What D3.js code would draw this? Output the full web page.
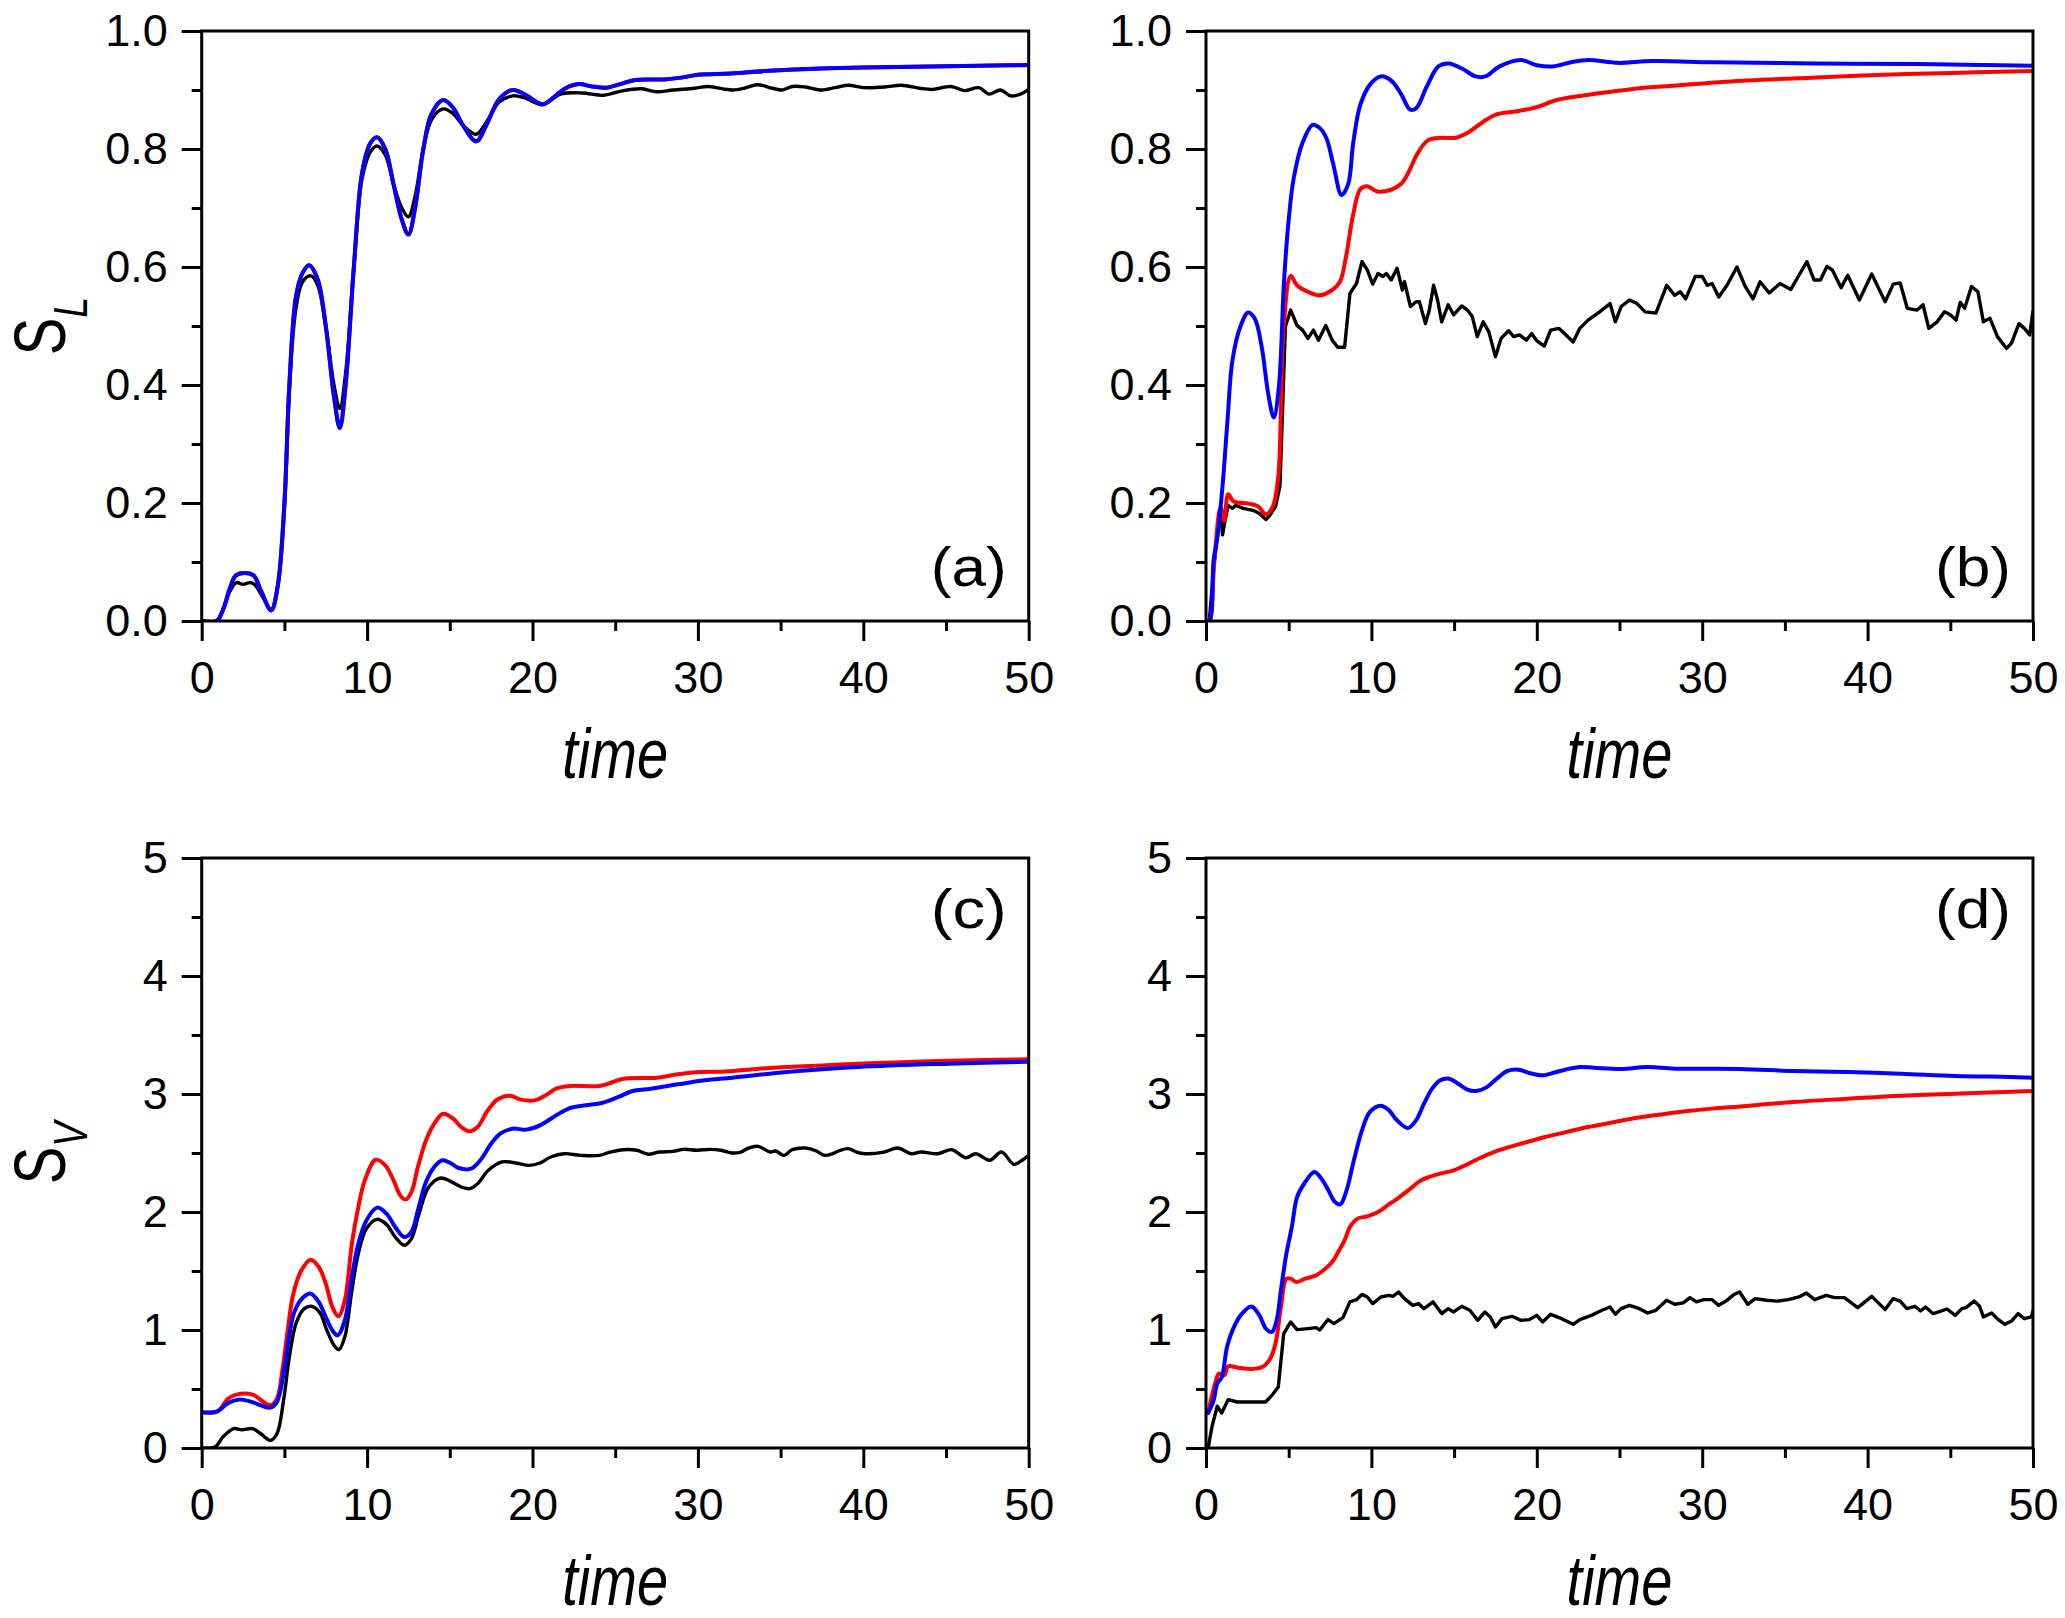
<!DOCTYPE html>
<html><head><meta charset="utf-8">
<script src="https://cdn.jsdelivr.net/npm/d3@7"></script>
<style>html,body{margin:0;padding:0;background:#fff}svg{display:block}</style>
</head><body>
<script>
// ---------------- DATA ----------------
const xTicksMajor = [0, 10, 20, 30, 40, 50];
const xTicksMinor = [5, 15, 25, 35, 45];
const yTicksTopMajor = [0, 0.2, 0.4, 0.6, 0.8, 1.0];
const yTicksTopMinor = [0.1, 0.3, 0.5, 0.7, 0.9];
const yTicksBotMajor = [0, 1, 2, 3, 4, 5];
const yTicksBotMinor = [0.5, 1.5, 2.5, 3.5, 4.5];
const panelLabels = ["(a)", "(b)", "(c)", "(d)"];

// panel (a)  S_L
const aBlack = [[0,0],[0.9,0],[1.3,0.02],[1.7,0.05],[2.1,0.065],[2.5,0.062],[2.9,0.065],[3.2,0.062],[3.6,0.045],[4.2,0.02],[4.6,0.06],[5.0,0.19],[5.3,0.39],[5.7,0.53],[6.1,0.575],[6.6,0.585],[7.0,0.57],[7.5,0.5],[8.0,0.4],[8.35,0.36],[8.7,0.42],[9.2,0.6],[9.7,0.75],[10.2,0.795],[10.6,0.805],[11.1,0.79],[11.6,0.74],[12.1,0.7],[12.5,0.685],[12.9,0.72],[13.4,0.8],[13.9,0.85],[14.6,0.868],[15.2,0.86],[15.8,0.84],[16.6,0.825],[17.2,0.845],[18.0,0.88],[18.8,0.89],[19.5,0.887],[20.6,0.875],[21.7,0.893],[23,0.895],[24.3,0.891],[25.5,0.899],[26.6,0.902],[27.5,0.897],[28.5,0.9],[29.8,0.903],[30.6,0.906],[31.5,0.902],[32.1,0.9],[32.8,0.903],[33.6,0.909],[34.5,0.903],[35.1,0.9],[35.7,0.906],[36.5,0.905],[37.4,0.9],[38.3,0.904],[39.1,0.908],[40.0,0.904],[41.3,0.905],[42.3,0.908],[43.4,0.903],[44.2,0.901],[45.3,0.906],[46.1,0.899],[47.0,0.904],[47.6,0.893],[48.3,0.9],[48.9,0.89],[49.5,0.893],[50,0.901]];
const aRed = [[0,0],[0.9,0],[1.3,0.02],[1.7,0.055],[2.1,0.078],[3.1,0.078],[3.6,0.05],[4.2,0.018],[4.6,0.06],[5.0,0.2],[5.3,0.4],[5.7,0.55],[6.1,0.59],[6.5,0.603],[7.0,0.58],[7.5,0.5],[8.0,0.38],[8.35,0.327],[8.7,0.4],[9.2,0.6],[9.7,0.76],[10.2,0.81],[10.6,0.82],[11.1,0.8],[11.6,0.74],[12.1,0.68],[12.5,0.655],[12.9,0.7],[13.4,0.8],[13.9,0.86],[14.6,0.883],[15.2,0.87],[15.8,0.84],[16.6,0.813],[17.2,0.84],[18.0,0.885],[18.8,0.9],[19.5,0.893],[20.6,0.876],[21.3,0.888],[22.0,0.903],[22.8,0.91],[23.6,0.906],[24.5,0.904],[25.3,0.91],[26.2,0.917],[28,0.918],[29,0.921],[30,0.926],[32,0.928],[34,0.932],[37,0.936],[40,0.938],[44,0.94],[47,0.941],[50,0.943]];
const aBlue = [[0,0],[0.9,0],[1.3,0.02],[1.7,0.055],[2.1,0.078],[3.1,0.078],[3.6,0.05],[4.2,0.018],[4.6,0.06],[5.0,0.2],[5.3,0.4],[5.7,0.55],[6.1,0.59],[6.5,0.603],[7.0,0.58],[7.5,0.5],[8.0,0.38],[8.35,0.327],[8.7,0.4],[9.2,0.6],[9.7,0.76],[10.2,0.81],[10.6,0.82],[11.1,0.8],[11.6,0.74],[12.1,0.68],[12.5,0.655],[12.9,0.7],[13.4,0.8],[13.9,0.86],[14.6,0.883],[15.2,0.87],[15.8,0.84],[16.6,0.813],[17.2,0.84],[18.0,0.885],[18.8,0.9],[19.5,0.893],[20.6,0.876],[21.3,0.888],[22.0,0.903],[22.8,0.91],[23.6,0.906],[24.5,0.904],[25.3,0.91],[26.2,0.917],[28,0.918],[29,0.921],[30,0.926],[32,0.928],[34,0.932],[37,0.936],[40,0.938],[44,0.94],[47,0.941],[50,0.942]];

// panel (b)  S_L
const bBlack = [[0,0],[0.2,0],[0.5,0.1],[0.8,0.17],[0.9,0.185],[1.0,0.146],[1.15,0.17],[1.34,0.196],[1.6,0.191],[1.8,0.196],[2.25,0.191],[2.9,0.187],[3.23,0.182],[3.62,0.172],[3.88,0.18],[4.2,0.194],[4.47,0.228],[4.8,0.499],[5.12,0.527],[5.5,0.501],[5.84,0.493],[6.16,0.479],[6.5,0.493],[6.8,0.476],[7.24,0.501],[7.63,0.476],[7.96,0.464],[8.38,0.464],[8.7,0.555],[9.1,0.572],[9.43,0.609],[9.75,0.595],[10.08,0.571],[10.4,0.589],[10.7,0.584],[10.9,0.589],[11.2,0.578],[11.55,0.598],[11.87,0.561],[12.0,0.575],[12.36,0.533],[12.7,0.541],[12.9,0.541],[13.27,0.504],[13.5,0.527],[13.76,0.569],[14.0,0.544],[14.25,0.507],[14.64,0.536],[14.97,0.519],[15.46,0.534],[15.8,0.527],[16.1,0.516],[16.4,0.482],[16.76,0.507],[17.1,0.49],[17.5,0.448],[17.84,0.479],[18.3,0.492],[18.6,0.482],[18.95,0.485],[19.37,0.476],[19.7,0.487],[20.0,0.475],[20.45,0.466],[20.84,0.493],[21.33,0.496],[21.75,0.485],[22.2,0.473],[22.6,0.496],[23.1,0.51],[23.8,0.524],[24.43,0.538],[24.75,0.507],[25.1,0.533],[25.6,0.544],[26.06,0.538],[26.55,0.524],[27.2,0.522],[27.85,0.569],[28.34,0.552],[28.67,0.558],[29.0,0.546],[29.58,0.584],[30.0,0.584],[30.3,0.569],[30.6,0.572],[31.0,0.549],[31.5,0.569],[32.1,0.6],[32.6,0.567],[33.07,0.546],[33.5,0.575],[34.05,0.556],[34.7,0.572],[35.36,0.562],[35.85,0.586],[36.33,0.609],[36.76,0.578],[37.15,0.578],[37.54,0.601],[37.87,0.595],[38.4,0.565],[38.8,0.586],[39.5,0.544],[40.25,0.588],[41.06,0.541],[41.55,0.571],[41.97,0.573],[42.4,0.53],[43.0,0.527],[43.35,0.536],[43.7,0.496],[44.2,0.507],[44.65,0.524],[45.0,0.519],[45.35,0.51],[45.6,0.54],[45.87,0.53],[46.28,0.567],[46.67,0.558],[47.0,0.507],[47.4,0.513],[47.85,0.482],[48.4,0.462],[48.7,0.471],[49.15,0.504],[49.48,0.496],[49.8,0.485],[50,0.525]];
const bRed = [[0,0],[0.2,0],[0.5,0.1],[0.88,0.193],[1.1,0.17],[1.34,0.215],[1.66,0.203],[2.58,0.199],[3.16,0.194],[3.62,0.181],[4.04,0.194],[4.37,0.245],[4.53,0.358],[4.7,0.499],[5.12,0.585],[5.5,0.569],[6.16,0.558],[6.88,0.552],[7.63,0.561],[8.1,0.575],[8.45,0.615],[8.9,0.689],[9.33,0.732],[9.74,0.737],[10.35,0.728],[11.2,0.731],[11.8,0.741],[12.2,0.758],[12.8,0.793],[13.43,0.815],[14.26,0.819],[15.08,0.819],[15.9,0.829],[16.7,0.845],[17.5,0.858],[18.8,0.864],[20,0.871],[21.2,0.883],[22.9,0.891],[24.5,0.897],[26.2,0.903],[28.6,0.908],[32.7,0.916],[36.9,0.921],[41,0.926],[45.1,0.929],[50,0.932]];
const bBlue = [[0,0],[0.2,0],[0.46,0.103],[0.7,0.144],[1.03,0.239],[1.3,0.34],[1.6,0.442],[2.09,0.5],[2.55,0.523],[2.96,0.512],[3.37,0.464],[3.78,0.382],[4.1,0.345],[4.4,0.395],[4.72,0.577],[5.0,0.68],[5.3,0.75],[5.83,0.81],[6.45,0.841],[6.86,0.836],[7.27,0.819],[7.68,0.776],[8.2,0.722],[8.6,0.741],[8.9,0.81],[9.33,0.875],[9.94,0.91],[10.56,0.923],[11.2,0.916],[11.8,0.893],[12.33,0.867],[12.7,0.869],[13.35,0.906],[14.05,0.94],[14.67,0.945],[15.5,0.936],[16.3,0.923],[16.9,0.923],[17.75,0.94],[19,0.951],[20,0.942],[21,0.94],[22.06,0.947],[23.1,0.951],[24.9,0.946],[27,0.949],[30.7,0.947],[36.9,0.945],[43,0.944],[50,0.941]];

// panel (c)  S_V
const cBlack = [[0,0],[0.8,0.008],[1.28,0.093],[1.93,0.164],[2.42,0.155],[3.08,0.164],[3.57,0.121],[4.16,0.065],[4.55,0.121],[4.95,0.404],[5.3,0.771],[5.7,1.054],[6.2,1.181],[6.68,1.2],[7.18,1.138],[7.57,0.997],[8.0,0.87],[8.29,0.833],[8.65,0.941],[9.08,1.336],[9.47,1.647],[9.96,1.859],[10.6,1.938],[11.17,1.895],[11.7,1.788],[12.25,1.718],[12.68,1.774],[13.14,1.986],[13.73,2.212],[14.45,2.288],[15.04,2.26],[15.7,2.212],[16.2,2.198],[16.68,2.24],[17.33,2.353],[18.15,2.424],[19.0,2.415],[19.8,2.395],[20.45,2.415],[21.1,2.466],[21.9,2.494],[22.9,2.48],[24.05,2.48],[24.7,2.508],[25.5,2.528],[26.3,2.523],[27.0,2.489],[27.65,2.508],[28.5,2.514],[29.13,2.531],[29.95,2.523],[30.77,2.531],[31.4,2.523],[32.08,2.5],[32.6,2.508],[33.06,2.542],[33.65,2.556],[34.37,2.508],[34.7,2.517],[35.2,2.48],[35.7,2.528],[36.5,2.542],[37.16,2.517],[37.65,2.48],[38.14,2.494],[38.6,2.523],[39.1,2.537],[39.6,2.508],[40.1,2.494],[41.25,2.508],[42.07,2.542],[42.9,2.494],[43.5,2.508],[44.5,2.494],[45.35,2.528],[46.2,2.46],[46.8,2.494],[47.64,2.438],[48.36,2.508],[49.1,2.404],[49.6,2.438],[50,2.48]];
const cRed = [[0,0.302],[0.95,0.31],[1.6,0.418],[2.1,0.452],[3.08,0.452],[3.74,0.39],[4.16,0.362],[4.55,0.418],[4.88,0.658],[5.2,0.997],[5.54,1.308],[6.03,1.506],[6.59,1.596],[7.08,1.534],[7.5,1.393],[7.9,1.195],[8.26,1.116],[8.65,1.251],[9.08,1.732],[9.47,2.042],[9.86,2.268],[10.52,2.443],[11.1,2.395],[11.6,2.268],[12.0,2.141],[12.32,2.105],[12.68,2.169],[13.07,2.381],[13.56,2.607],[14.06,2.749],[14.6,2.833],[15.2,2.791],[15.7,2.72],[16.2,2.684],[16.68,2.72],[17.3,2.862],[17.9,2.955],[18.64,2.986],[19.3,2.952],[20.1,2.946],[20.8,2.989],[21.43,3.045],[22.25,3.068],[24.05,3.068],[24.87,3.102],[25.5,3.13],[27.5,3.138],[28.8,3.167],[30.1,3.186],[31.4,3.189],[33.7,3.215],[35.35,3.229],[38.6,3.249],[41.9,3.268],[45.2,3.282],[50,3.294]];
const cBlue = [[0,0.302],[0.95,0.31],[1.6,0.381],[2.26,0.41],[2.92,0.395],[3.57,0.362],[4.16,0.342],[4.55,0.39],[4.95,0.63],[5.28,0.941],[5.6,1.153],[6.1,1.271],[6.59,1.308],[7.08,1.237],[7.5,1.11],[7.9,0.997],[8.22,0.955],[8.65,1.082],[9.08,1.449],[9.47,1.732],[9.96,1.929],[10.6,2.037],[11.17,1.986],[11.7,1.873],[12.25,1.788],[12.68,1.831],[13.07,2.014],[13.56,2.254],[14.06,2.381],[14.55,2.438],[15.04,2.415],[15.53,2.373],[16.28,2.367],[16.84,2.438],[17.5,2.579],[18.05,2.664],[18.8,2.706],[19.63,2.698],[20.45,2.734],[21.27,2.805],[22.25,2.881],[23.23,2.904],[24.2,2.924],[25.2,2.975],[26.0,3.023],[27.16,3.045],[28.8,3.082],[30.4,3.116],[32.08,3.138],[35.35,3.186],[38.6,3.22],[41.9,3.243],[45.2,3.257],[50,3.274]];

// panel (d)  S_V
const dBlack = [[0.13,0],[0.36,0.18],[0.68,0.354],[0.95,0.296],[1.34,0.41],[1.9,0.39],[2.9,0.39],[3.6,0.39],[4.04,0.455],[4.37,0.517],[4.7,0.969],[5.12,1.068],[5.5,1.003],[6.16,1.012],[6.65,1.02],[6.88,1.0],[7.37,1.088],[7.73,1.054],[8.28,1.105],[8.7,1.238],[9.1,1.257],[9.43,1.302],[9.75,1.28],[10.08,1.224],[10.57,1.28],[11.06,1.294],[11.3,1.285],[11.64,1.322],[12.0,1.266],[12.5,1.209],[12.85,1.224],[13.18,1.181],[13.73,1.238],[14.25,1.139],[14.64,1.181],[14.97,1.153],[15.46,1.201],[15.95,1.167],[16.43,1.082],[16.86,1.153],[17.19,1.111],[17.5,1.026],[17.9,1.096],[18.5,1.116],[19.05,1.082],[19.54,1.088],[20.0,1.124],[20.35,1.068],[20.84,1.133],[21.5,1.096],[22.2,1.048],[22.6,1.088],[23.3,1.124],[23.94,1.167],[24.43,1.195],[24.75,1.133],[25.1,1.181],[25.6,1.209],[26.2,1.181],[26.7,1.144],[27.2,1.167],[27.85,1.252],[28.34,1.218],[28.85,1.23],[29.26,1.274],[29.65,1.238],[30.1,1.257],[30.6,1.257],[31.0,1.209],[31.44,1.245],[31.93,1.302],[32.26,1.322],[32.75,1.218],[33.2,1.266],[33.9,1.252],[34.55,1.245],[35.2,1.257],[35.85,1.28],[36.3,1.313],[36.8,1.257],[37.5,1.294],[38.0,1.274],[38.6,1.274],[39.4,1.19],[40.25,1.285],[41.06,1.173],[41.55,1.266],[41.97,1.245],[42.37,1.181],[42.86,1.201],[43.2,1.161],[43.5,1.195],[43.95,1.139],[44.3,1.153],[44.8,1.178],[45.3,1.124],[45.7,1.181],[45.95,1.19],[46.44,1.245],[46.77,1.201],[47.0,1.111],[47.5,1.144],[47.9,1.088],[48.3,1.048],[48.7,1.076],[49.1,1.139],[49.48,1.096],[49.9,1.111],[50,1.161]];
const dRed = [[0.13,0.3],[0.55,0.545],[0.78,0.63],[1.1,0.616],[1.34,0.692],[1.92,0.681],[2.74,0.67],[3.4,0.686],[3.88,0.757],[4.2,0.884],[4.53,1.195],[4.86,1.435],[5.12,1.435],[5.45,1.407],[6.0,1.435],[6.65,1.463],[7.14,1.51],[7.63,1.576],[8.05,1.675],[8.38,1.76],[8.7,1.873],[9.16,1.944],[9.75,1.963],[10.4,2.0],[11.06,2.065],[11.7,2.127],[12.36,2.198],[13.0,2.268],[13.5,2.297],[14.16,2.325],[14.97,2.353],[15.8,2.404],[16.6,2.46],[17.4,2.508],[18.2,2.545],[19.2,2.585],[20.5,2.636],[21.8,2.678],[23.1,2.72],[24.4,2.754],[25.7,2.791],[27.4,2.825],[29.0,2.853],[30.6,2.876],[32.3,2.895],[35.5,2.932],[38.8,2.96],[42.0,2.986],[45.3,3.003],[50,3.025]];
const dBlue = [[0.13,0.297],[0.46,0.404],[0.68,0.545],[0.95,0.6],[1.27,0.856],[1.6,0.997],[2.09,1.124],[2.74,1.2],[3.23,1.124],[3.62,1.011],[3.98,0.983],[4.27,1.082],[4.53,1.336],[4.86,1.647],[5.19,1.873],[5.51,2.127],[6.0,2.254],[6.55,2.339],[6.98,2.282],[7.4,2.184],[7.8,2.085],[8.12,2.065],[8.5,2.184],[8.94,2.438],[9.43,2.692],[9.9,2.847],[10.57,2.901],[11.06,2.862],[11.55,2.777],[12.2,2.712],[12.7,2.777],[13.18,2.918],[13.67,3.045],[14.16,3.116],[14.7,3.13],[15.3,3.082],[15.8,3.037],[16.34,3.025],[16.93,3.054],[17.58,3.13],[18.23,3.195],[18.9,3.206],[19.54,3.178],[20.35,3.158],[21.17,3.186],[22.0,3.215],[22.6,3.229],[23.45,3.223],[25.1,3.212],[26.7,3.229],[28.34,3.215],[32.26,3.212],[35.5,3.195],[38.8,3.186],[42.0,3.172],[45.3,3.153],[48.6,3.144],[50,3.138]];

// ---------------- LAYOUT ----------------
const W = 2065, H = 1618;
const PW = 827, PH = 590;
const lefts = [201.7, 1206], tops = [31, 858];
const panels = [
  {id:"a", left:lefts[0], top:tops[0], yDom:[0,1], yMaj:yTicksTopMajor, yMin:yTicksTopMinor, fmt:d3.format(".1f"), series:[aBlack,aRed,aBlue], noisy:[false,false,false], label:panelLabels[0], labelBottom:true, yTitle:["S","L"]},
  {id:"b", left:lefts[1], top:tops[0], yDom:[0,1], yMaj:yTicksTopMajor, yMin:yTicksTopMinor, fmt:d3.format(".1f"), series:[bBlack,bRed,bBlue], noisy:[true,false,false], label:panelLabels[1], labelBottom:true, yTitle:null},
  {id:"c", left:lefts[0], top:tops[1], yDom:[0,5], yMaj:yTicksBotMajor, yMin:yTicksBotMinor, fmt:d3.format("d"), series:[cBlack,cRed,cBlue], noisy:[false,false,false], label:panelLabels[2], labelBottom:false, yTitle:["S","V"]},
  {id:"d", left:lefts[1], top:tops[1], yDom:[0,5], yMaj:yTicksBotMajor, yMin:yTicksBotMinor, fmt:d3.format("d"), series:[dBlack,dRed,dBlue], noisy:[true,false,false], label:panelLabels[3], labelBottom:false, yTitle:null}
];
const colors = ["#000000", "#ff0000", "#0000ff"];
const widths = [3.4, 4, 4];
const FONT = "'Liberation Sans', Arial, Helvetica, sans-serif";

const svg = d3.select("body").append("svg").attr("width", W).attr("height", H)
  .style("font-family", FONT);
const defs = svg.append("defs");

panels.forEach(p => {
  const x = d3.scaleLinear().domain([0,50]).range([0, PW]);
  const y = d3.scaleLinear().domain(p.yDom).range([PH, 0]);
  const g = svg.append("g").attr("transform", `translate(${p.left},${p.top})`);

  defs.append("clipPath").attr("id", "clip-"+p.id)
    .append("rect").attr("x", 0).attr("y", -2).attr("width", PW).attr("height", PH+2);

  // data lines
  const lg = g.append("g").attr("clip-path", `url(#clip-${p.id})`);
  p.series.forEach((s, i) => {
    const line = d3.line().x(d => x(d[0])).y(d => y(d[1]))
      .curve(p.noisy[i] ? d3.curveLinear : d3.curveCatmullRom.alpha(0.5));
    lg.append("path").datum(s).attr("d", line)
      .attr("fill", "none").attr("stroke", colors[i]).attr("stroke-width", widths[i])
      .attr("stroke-linejoin", "round").attr("stroke-linecap", "round");
  });

  // axes (ticks outward)
  const xAxisMaj = d3.axisBottom(x).tickValues(xTicksMajor).tickSize(20).tickSizeOuter(0).tickPadding(20).tickFormat(d3.format("d"));
  const xAxisMin = d3.axisBottom(x).tickValues(xTicksMinor).tickSize(10).tickSizeOuter(0).tickFormat("");
  const yAxisMaj = d3.axisLeft(y).tickValues(p.yMaj).tickSize(20).tickSizeOuter(0).tickPadding(14).tickFormat(p.fmt);
  const yAxisMin = d3.axisLeft(y).tickValues(p.yMin).tickSize(10).tickSizeOuter(0).tickFormat("");

  const axes = [
    g.append("g").attr("transform", `translate(0,${PH})`).call(xAxisMaj),
    g.append("g").attr("transform", `translate(0,${PH})`).call(xAxisMin),
    g.append("g").call(yAxisMaj),
    g.append("g").call(yAxisMin)
  ];
  axes.forEach(a => {
    a.select(".domain").remove();
    a.selectAll("line").attr("stroke", "#000").attr("stroke-width", 3);
    a.selectAll("text").attr("fill", "#000").style("font-family", FONT).style("font-size", "45px");
  });

  // frame
  g.append("rect").attr("x", 0).attr("y", 0).attr("width", PW).attr("height", PH)
    .attr("fill", "none").attr("stroke", "#000").attr("stroke-width", 3);

  // x title
  g.append("text").attr("transform", `translate(${PW/2},${PH+157}) scale(0.8,1)`)
    .attr("text-anchor", "middle").style("font-size", "70px").style("font-style", "italic")
    .attr("fill", "#000").text("time");

  // panel label
  g.append("text").attr("x", PW - 22).attr("y", p.labelBottom ? 555 : 70)
    .attr("text-anchor", "end").style("font-size", "56px").attr("fill", "#000")
    .attr("textLength", 76).attr("lengthAdjust", "spacingAndGlyphs")
    .text(p.label);

  // y title
  if (p.yTitle) {
    const t = svg.append("text")
      .attr("transform", `translate(65,${p.top + PH/2}) rotate(-90) scale(0.78,1)`)
      .attr("text-anchor", "middle").attr("fill", "#000");
    t.append("tspan").style("font-size", "72px").text(p.yTitle[0]);
    t.append("tspan").attr("dy", 22).style("font-size", "48px").style("font-style", "italic").text(p.yTitle[1]);
  }
});
</script>
</body></html>
